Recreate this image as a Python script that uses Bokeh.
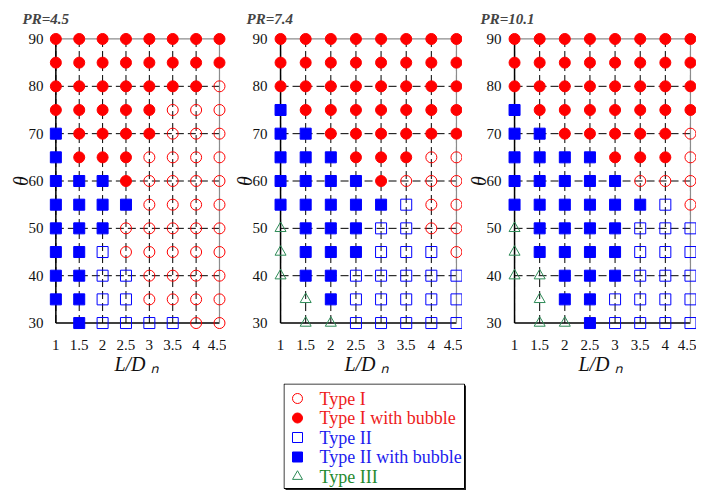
from bokeh.plotting import figure
from bokeh.models import Range1d, FixedTicker, Spacer
from bokeh.layouts import row, column
from bokeh.embed import file_html
from bokeh.resources import INLINE
from bokeh.core.properties import value

# ---------------- data ----------------
ld = [1, 1.5, 2, 2.5, 3, 3.5, 4, 4.5]
ld_labels = ["1", "1.5", "2", "2.5", "3", "3.5", "4", "4.5"]
theta = [90, 85, 80, 75, 70, 65, 60, 55, 50, 45, 40, 35, 30]
theta_ticks = [30, 40, 50, 60, 70, 80, 90]
pr_values = ["4.5", "7.4", "10.1"]

# c = Type I, C = Type I with bubble, s = Type II, S = Type II with bubble,
# t = Type III, . = no point. One string per theta row (90 -> 30), one char per L/D.
regime_pr45 = [
    "CCCCCCCC", "CCCCCCCC", "CCCCCCCc", "CCCCCccc", "SCCCCccc",
    "SCCCcccc", "SSSCcccc", "SSSScccc", "SSSccccc", "SSsccccc",
    "SSsscccc", "SSsscccc", ".Ssssscc",
]
regime_pr74 = [
    "CCCCCCCC", "CCCCCCCC", "CCCCCCCC", "SCCCCCCC", "SSCCCCCC",
    "SSSCCCcc", "SSSSCccc", "SSSSSscc", "tSSSsscc", "tSSSsssc",
    "tSSsssss", ".tSsssss", ".ttsssss",
]
regime_pr101 = [
    "CCCCCCCC", "CCCCCCCC", "CCCCCCCC", "SCCCCCCC", "SSCCCCCc",
    "SSSSCCCc", "SSSSSccc", "SSSSSSsc", "tSSSSsss", "tSSSSsss",
    "ttSSSsss", ".tSSssss", ".ttSssss",
]
regimes = [regime_pr45, regime_pr74, regime_pr101]

type_codes = ["c", "C", "s", "S", "t"]
type_names = ["Type I", "Type I with bubble", "Type II", "Type II with bubble", "Type III"]
type_colors = ["#ff0000", "#ff0000", "#0000ff", "#0000ff", "#2e8b57"]
type_text_colors = ["#ee1c1c", "#ee1c1c", "#1c1cee", "#1c1cee", "#1f8a2e"]
type_markers = ["circle", "circle", "square", "square", "triangle"]
type_filled = [False, True, False, True, False]

SERIF = "Liberation Serif"


def make_panel(pr, grid, x_end, frame_w, b_left, b_right, title_offset):
    p = figure(frame_width=frame_w, frame_height=303,
               x_range=Range1d(0.8, x_end), y_range=Range1d(28, 92),
               output_backend="svg", toolbar_location=None,
               min_border_left=b_left, min_border_right=b_right,
               min_border_top=29, min_border_bottom=48)
    p.outline_line_color = None
    p.xgrid.visible = False
    p.ygrid.visible = False

    p.title.text = "PR=" + pr
    p.title.text_font = SERIF
    p.title.text_font_style = "bold italic"
    p.title.text_font_size = "15px"
    p.title.align = "left"
    p.title.offset = title_offset
    p.title.standoff = 6

    tmin, tmax = min(theta), max(theta)
    xmin, xmax = min(ld), max(ld)
    n = len(ld)
    # dashed guide lines
    p.segment(x0=ld, y0=[tmin] * n, x1=ld, y1=[tmax] * n,
              line_color="black", line_width=1, line_dash="8 4")
    inner = theta_ticks[1:-1]
    m = len(inner)
    p.segment(x0=[xmin] * m, y0=inner, x1=[xmax] * m, y1=inner,
              line_color="black", line_width=1, line_dash="8 4")
    # frame
    p.segment(x0=[xmin, xmin], y0=[tmin, tmin], x1=[xmin, xmax], y1=[tmax, tmin],
              line_color="black", line_width=1.5)
    p.segment(x0=[xmin, xmax], y0=[tmax, tmin], x1=[xmax, xmax], y1=[tmax, tmax],
              line_color="#8c8c8c", line_width=1.2)

    for code, color, marker, filled in zip(type_codes, type_colors, type_markers, type_filled):
        xs, ys = [], []
        for t, line in zip(theta, grid):
            for x, ch in zip(ld, line):
                if ch == code:
                    xs.append(x)
                    ys.append(t)
        if xs:
            p.scatter(xs, ys, marker=marker, size=11, line_color=color,
                      fill_color=color if filled else None, line_width=1)

    p.xaxis.ticker = FixedTicker(ticks=ld)
    p.xaxis.major_label_overrides = {x: lab for x, lab in zip(ld, ld_labels)}
    p.yaxis.ticker = FixedTicker(ticks=theta_ticks)
    for ax in (p.xaxis, p.yaxis):
        ax.axis_line_color = None
        ax.major_tick_line_color = None
        ax.minor_tick_line_color = None
        ax.major_tick_out = 0
        ax.major_tick_in = 0
        ax.minor_tick_out = 0
        ax.minor_tick_in = 0
        ax.major_label_text_font = SERIF
        ax.major_label_text_font_size = "15px"
        ax.major_label_text_color = "#111111"
        ax.axis_label_text_font = SERIF
        ax.axis_label_text_font_style = "italic"
        ax.axis_label_text_font_size = "20px"
        ax.axis_label_text_color = "#111111"
    p.xaxis.axis_label = "L/D \u2099"
    p.xaxis.major_label_standoff = 7
    p.xaxis.axis_label_standoff = 0
    p.yaxis.axis_label = "\u03b8"
    p.yaxis.major_label_standoff = 3
    p.yaxis.axis_label_standoff = -6
    return p


p1 = make_panel(pr_values[0], regimes[0], 4.65, 180, 46, 0, -24)
p2 = make_panel(pr_values[1], regimes[1], 4.62, 192, 44, 0, -24)
p3 = make_panel(pr_values[2], regimes[2], 4.62, 192, 42, 0, -24)

# ---------------- legend ----------------
LW, LH, SH = 181, 105, 2
leg = figure(frame_width=LW + SH, frame_height=LH + SH, x_range=Range1d(0, LW + SH),
             y_range=Range1d(LH + SH, 0), output_backend="svg", toolbar_location=None,
             x_axis_location=None, y_axis_location=None,
             min_border_left=0, min_border_right=0, min_border_top=3, min_border_bottom=0)
leg.outline_line_color = None
leg.xgrid.visible = False
leg.ygrid.visible = False
leg.quad(left=[SH], right=[LW + SH], top=[SH], bottom=[LH + SH], fill_color="#222222", line_color=None)
leg.quad(left=[0.5], right=[LW], top=[0.5], bottom=[LH], fill_color="white",
         line_color="black", line_width=1)
k = len(type_names)
ys = [15 + 19.5 * i for i in range(k)]
for i in range(k):
    leg.scatter([14], [ys[i]], marker=type_markers[i], size=10, line_color=type_colors[i],
                fill_color=type_colors[i] if type_filled[i] else None, line_width=1)
leg.text(x=[36] * k, y=ys, text=type_names, text_color=type_text_colors,
         text_font=value(SERIF), text_font_size="18px", text_baseline="middle")

layout = column(row(p1, p2, p3), row(Spacer(width=283, height=10), leg))
open("out.html", "w").write(file_html(layout, INLINE))
